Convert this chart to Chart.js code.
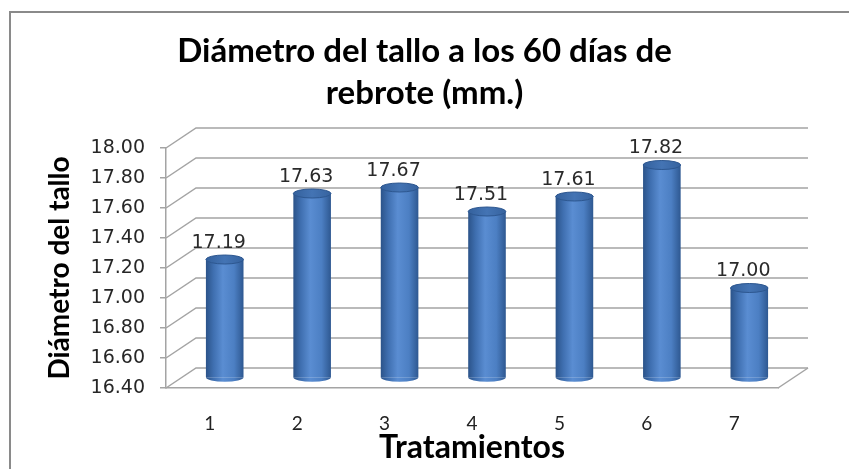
<!DOCTYPE html>
<html>
<head>
<meta charset="utf-8">
<title>Diámetro del tallo</title>
<script src="https://cdn.jsdelivr.net/npm/chart.js@4/dist/chart.umd.min.js"></script>
<style>
  html, body { margin: 0; padding: 0; background: #fff; }
  #wrap { width: 849px; height: 469px; position: relative; }
</style>
</head>
<body>
<div id="wrap"><canvas id="c" width="849" height="469"></canvas></div>
<script>
// Treatments and stem diameter (mm) after 60 days of regrowth
const categories = ['1', '2', '3', '4', '5', '6', '7'];
const diametro = [17.19, 17.63, 17.67, 17.51, 17.61, 17.82, 17.00];
const yTicks = [16.40, 16.60, 16.80, 17.00, 17.20, 17.40, 17.60, 17.80, 18.00];

const titleLines = ['Diámetro del tallo a los 60 días de', 'rebrote (mm.)'];
const yTitle = 'Diámetro del tallo';
const xTitle = 'Tratamientos';

// pseudo-3D depth: back wall offset, bars sit half way in
const DEPTH_X = 30, DEPTH_Y = -20;
const BAR_FRACTION = 0.43;
const GRID = '#a4a4a4';

function bodyGradient(ctx, x0, x1) {
  const g = ctx.createLinearGradient(x0, 0, x1, 0);
  g.addColorStop(0, '#2B5389');
  g.addColorStop(0.2, '#3F6FB0');
  g.addColorStop(0.45, '#5A8DD2');
  g.addColorStop(0.75, '#4C7FC3');
  g.addColorStop(1, '#2E5891');
  return g;
}

const frame3d = {
  id: 'frame3d',
  beforeDraw(chart) {
    const ctx = chart.ctx;
    ctx.save();
    ctx.fillStyle = '#fff';
    ctx.fillRect(0, 0, chart.width, chart.height);
    // outer chart border (top and left edges)
    ctx.strokeStyle = '#8a8a8a';
    ctx.lineWidth = 2;
    ctx.beginPath();
    ctx.moveTo(chart.width, 12);
    ctx.lineTo(10, 12);
    ctx.lineTo(10, chart.height);
    ctx.stroke();
    // two-line chart title, centred on the whole canvas
    ctx.fillStyle = '#000';
    ctx.font = 'bold 33px Lato';
    ctx.textAlign = 'center';
    ctx.textBaseline = 'alphabetic';
    titleLines.forEach((line, i) => ctx.fillText(line, chart.width / 2, 62 + i * 42));
    ctx.restore();
  },
  beforeDatasetsDraw(chart) {
    const ctx = chart.ctx;
    const y = chart.scales.y;
    const { left, right, bottom } = chart.chartArea;
    ctx.save();
    ctx.strokeStyle = GRID;
    ctx.lineWidth = 1.5;
    // side wall diagonals + back wall gridlines
    yTicks.forEach(v => {
      const py = y.getPixelForValue(v);
      ctx.beginPath();
      ctx.moveTo(left, py);
      ctx.lineTo(left + DEPTH_X, py + DEPTH_Y);
      ctx.lineTo(right + DEPTH_X, py + DEPTH_Y);
      ctx.stroke();
    });
    // floor right edge
    ctx.beginPath();
    ctx.moveTo(right, bottom);
    ctx.lineTo(right + DEPTH_X, bottom + DEPTH_Y);
    ctx.stroke();
    ctx.restore();
    // bars stand half way into the depth
    ctx.save();
    ctx.translate(DEPTH_X / 2, DEPTH_Y / 2);
  },
  afterDatasetsDraw(chart) {
    const ctx = chart.ctx;
    const meta = chart.getDatasetMeta(0);
    meta.data.forEach((bar, i) => {
      const { x, y, base, width } = bar.getProps(['x', 'y', 'base', 'width'], true);
      const rx = width / 2, ry = 4.5;
      // rounded foot of the cylinder
      ctx.beginPath();
      ctx.ellipse(x, base, rx, ry, 0, 0, Math.PI);
      ctx.closePath();
      ctx.fillStyle = bodyGradient(ctx, x - rx, x + rx);
      ctx.fill();
      // top cap
      ctx.beginPath();
      ctx.ellipse(x, y, rx, ry, 0, 0, Math.PI * 2);
      const g = ctx.createLinearGradient(x - rx, 0, x + rx, 0);
      g.addColorStop(0, '#34619D');
      g.addColorStop(0.5, '#4474B4');
      g.addColorStop(1, '#36639F');
      ctx.fillStyle = g;
      ctx.fill();
      ctx.lineWidth = 1;
      ctx.strokeStyle = '#2D5790';
      ctx.stroke();
      // value label
      ctx.fillStyle = '#2a2a2a';
      ctx.font = '19px "DejaVu Sans"';
      ctx.textAlign = 'center';
      ctx.textBaseline = 'alphabetic';
      ctx.fillText(diametro[i].toFixed(2), x - 6, y - 12);
    });
    ctx.restore();
  }
};

new Chart(document.getElementById('c'), {
  type: 'bar',
  data: {
    labels: categories,
    datasets: [{
      data: diametro,
      backgroundColor: (c) => {
        const chart = c.chart;
        const area = chart.chartArea;
        if (!area || c.type !== 'data' || !chart.scales.x) return '#4A7DC0';
        const x = chart.scales.x.getPixelForValue(c.dataIndex);
        const w = (area.right - area.left) / categories.length * BAR_FRACTION;
        return bodyGradient(chart.ctx, x - w / 2, x + w / 2);
      },
      borderWidth: 0,
      categoryPercentage: 1,
      barPercentage: BAR_FRACTION,
      base: 16.4,
      clip: false
    }]
  },
  options: {
    responsive: false,
    animation: false,
    events: [],
    layout: { padding: { left: 0, right: 71, top: 148, bottom: 0 } },
    plugins: {
      legend: { display: false },
      tooltip: { enabled: false },
      title: { display: false }
    },
    scales: {
      x: {
        grid: { display: false, drawTicks: false },
        border: { display: true, color: GRID, width: 1.5 },
        ticks: { color: '#222', font: { family: 'Lato', size: 19 }, padding: 24 },
        title: {
          display: true, text: xTitle, color: '#000',
          font: { family: 'Lato', weight: 'bold', size: 32, lineHeight: 1.2 },
          padding: { top: 0, bottom: 2 }
        },
        afterFit: (s) => { s.height = 81; }
      },
      y: {
        min: 16.4, max: 18.0,
        afterBuildTicks: (s) => { s.ticks = yTicks.map(v => ({ value: v })); },
        grid: { drawOnChartArea: false, drawTicks: true, tickLength: 6, color: GRID, lineWidth: 1.5 },
        border: { display: true, color: GRID, width: 1.5 },
        ticks: {
          color: '#262626', font: { family: 'DejaVu Sans', size: 19 }, padding: 15,
          callback: (v) => Number(v).toFixed(2)
        },
        title: {
          display: true, text: yTitle, color: '#000',
          font: { family: 'Lato', weight: 'bold', size: 28, lineHeight: 1.2 },
          padding: { top: 43, bottom: 0 }
        },
        afterFit: (s) => { s.width = 166; }
      }
    }
  },
  plugins: [frame3d]
});
</script>
</body>
</html>
